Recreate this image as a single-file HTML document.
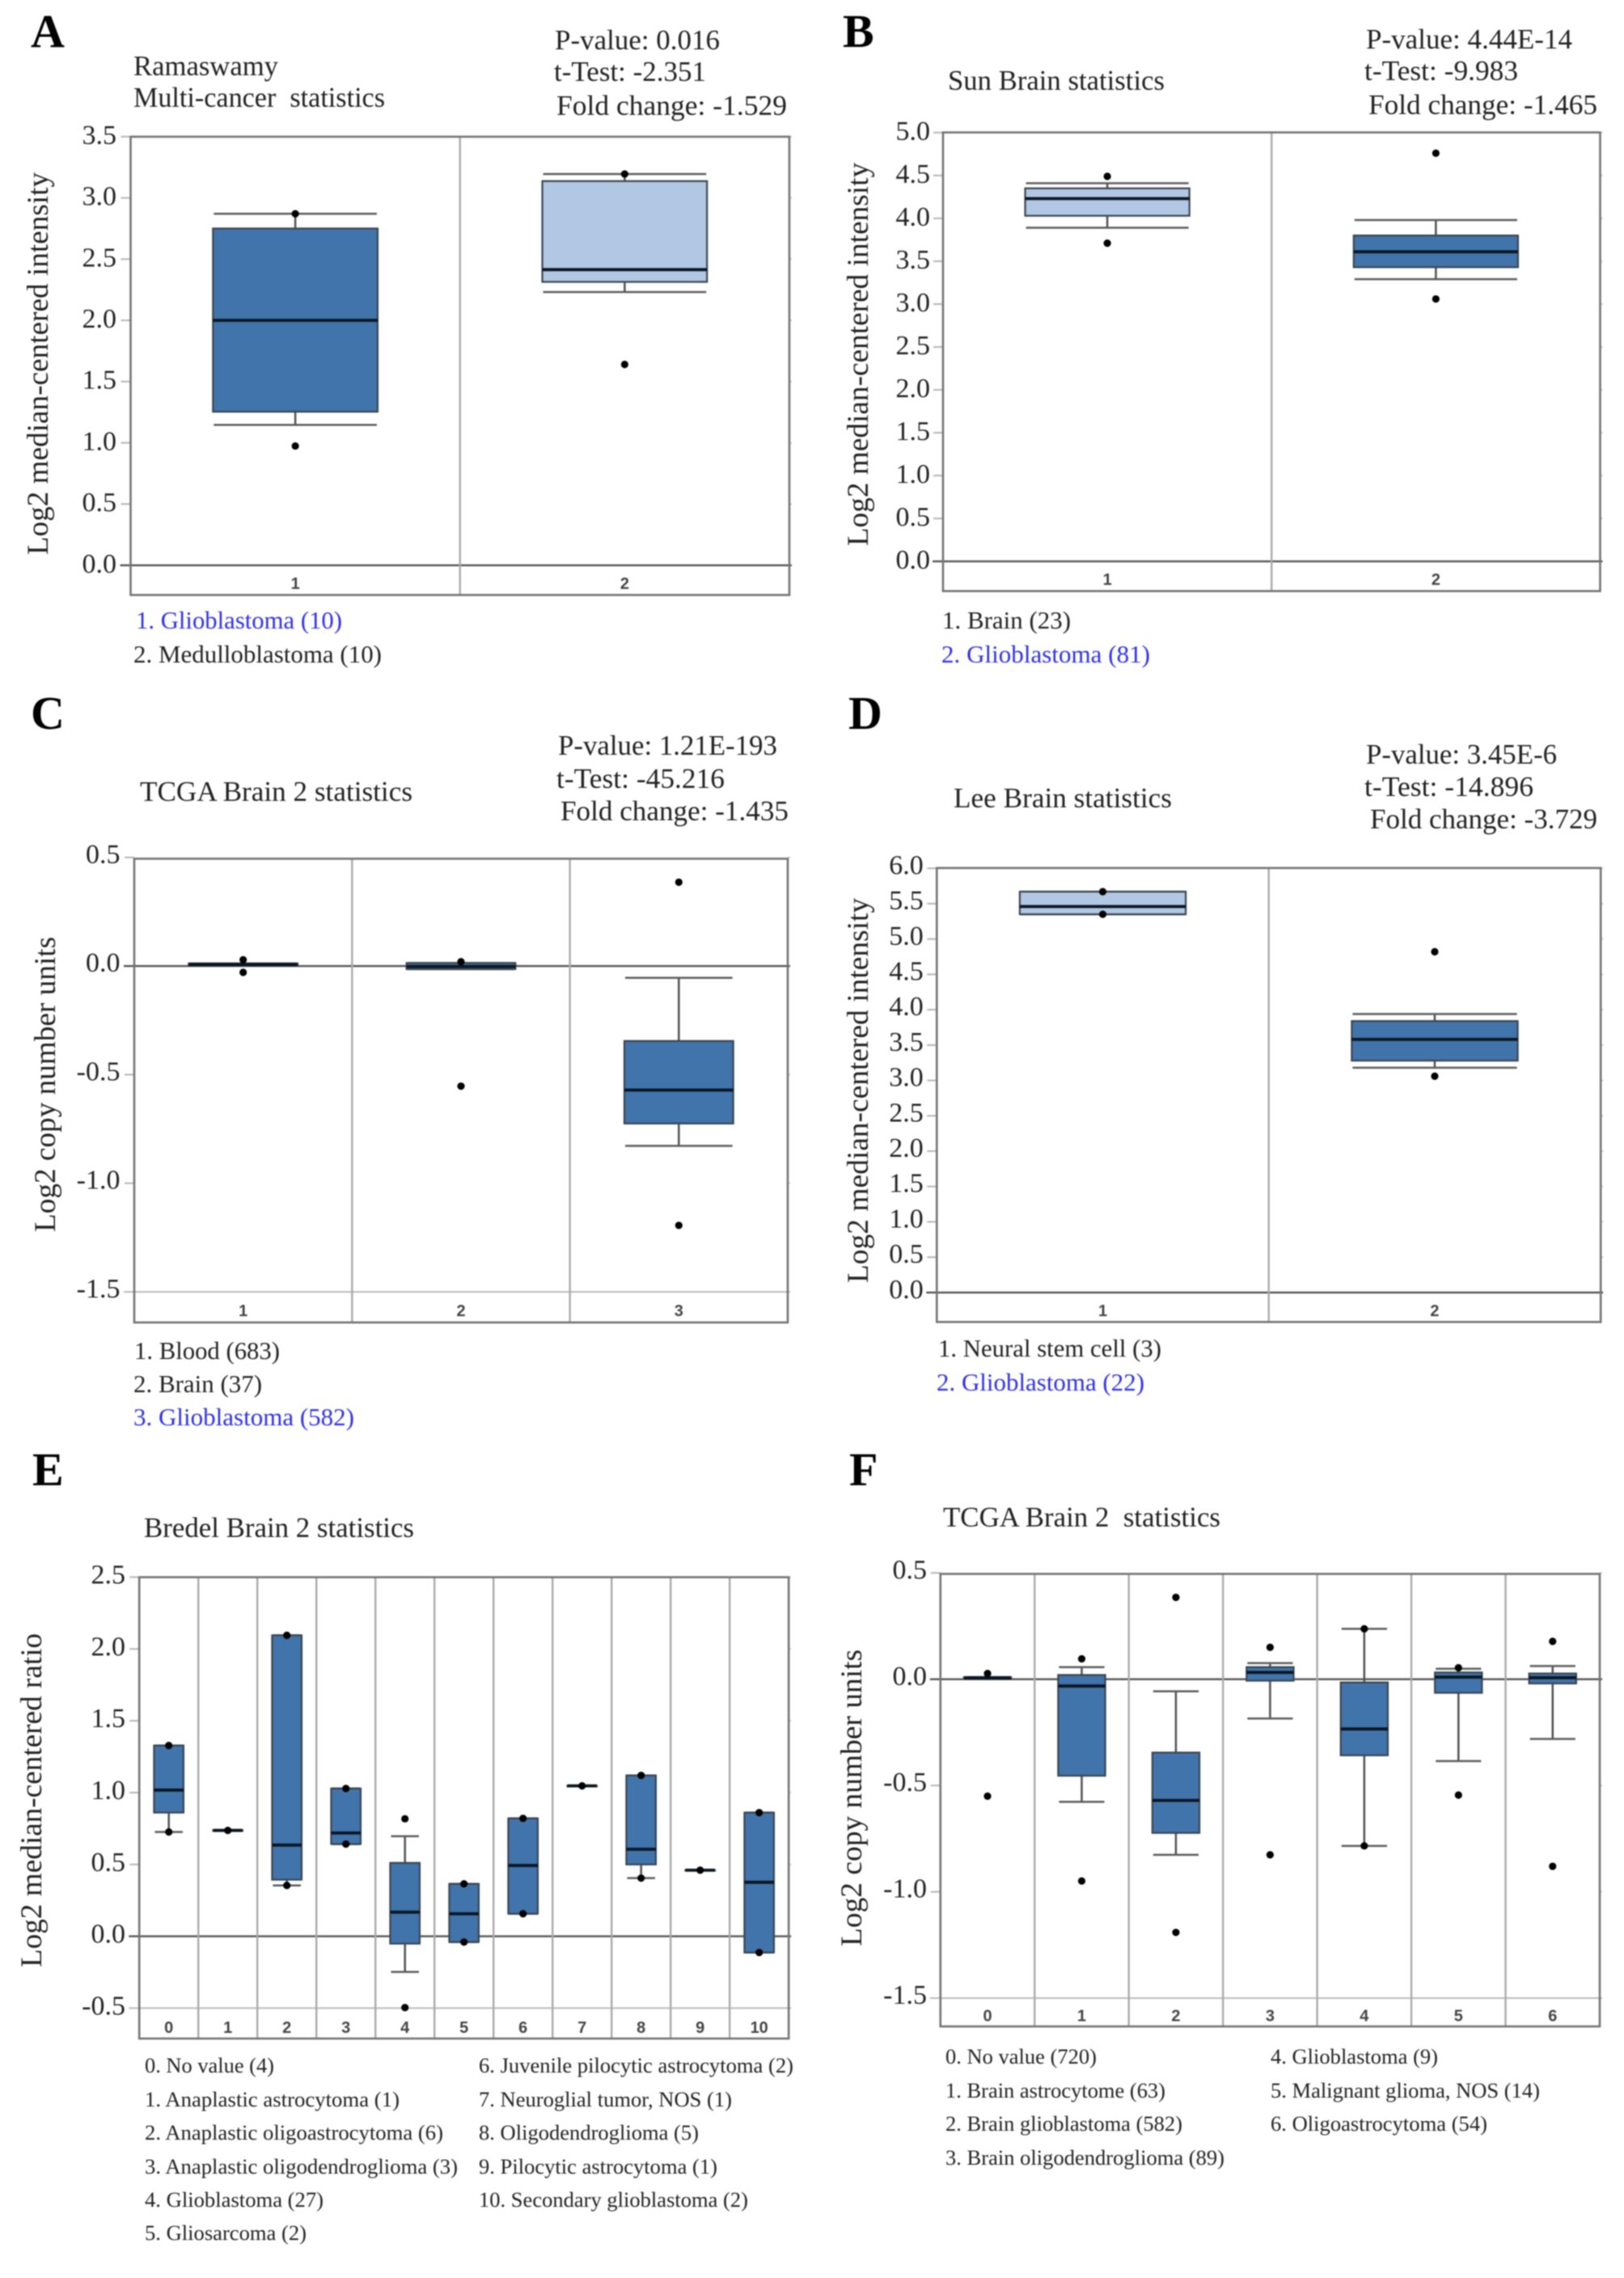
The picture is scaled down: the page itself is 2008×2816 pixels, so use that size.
<!DOCTYPE html>
<html lang="en">
<head>
<meta charset="utf-8">
<title>Oncomine box plots</title>
<style>
html,body{margin:0;padding:0;background:#fff;width:2008px;height:2816px;overflow:hidden}
svg{display:block;filter:blur(0.9px)}
text{font-family:"Liberation Serif",serif;fill:#222;white-space:pre}
.letter{font-size:58px;font-weight:bold;fill:#000}
.stat,.title{font-size:35px}
.ytitle{font-size:37px}
.leg{font-size:30.5px}
.legs{font-size:26.5px}
.blue{fill:#2f2fe8}
</style>
</head>
<body>
<svg id="figure" xmlns="http://www.w3.org/2000/svg" width="2008" height="2816" viewBox="0 0 2008 2816">
<rect x="0" y="0" width="2008" height="2816" fill="#fff"/>

<!-- Panel A -->
<g>
<text class="letter" x="38" y="58">A</text>
<text class="title" x="165" y="93" textLength="179" lengthAdjust="spacingAndGlyphs">Ramaswamy</text>
<text class="title" x="165" y="132" textLength="311" lengthAdjust="spacingAndGlyphs">Multi-cancer  statistics</text>
<text class="stat" x="686" y="61" textLength="204" lengthAdjust="spacingAndGlyphs">P-value: 0.016</text>
<text class="stat" x="685" y="100" textLength="188" lengthAdjust="spacingAndGlyphs">t-Test: -2.351</text>
<text class="stat" x="688" y="142" textLength="285" lengthAdjust="spacingAndGlyphs">Fold change: -1.529</text>
<text class="ytitle" transform="translate(59,686) rotate(-90)" textLength="473" lengthAdjust="spacingAndGlyphs">Log2 median-centered intensity</text>
<g id="plot-a"></g>
<text class="leg blue" x="168" y="777" textLength="255" lengthAdjust="spacingAndGlyphs">1. Glioblastoma (10)</text>
<text class="leg" x="165" y="819" textLength="307" lengthAdjust="spacingAndGlyphs">2. Medulloblastoma (10)</text>
</g>

<!-- Panel B -->
<g>
<text class="letter" x="1042" y="58">B</text>
<text class="title" x="1172" y="111" textLength="268" lengthAdjust="spacingAndGlyphs">Sun Brain statistics</text>
<text class="stat" x="1689" y="60" textLength="255" lengthAdjust="spacingAndGlyphs">P-value: 4.44E-14</text>
<text class="stat" x="1687" y="99" textLength="190" lengthAdjust="spacingAndGlyphs">t-Test: -9.983</text>
<text class="stat" x="1692" y="141" textLength="283" lengthAdjust="spacingAndGlyphs">Fold change: -1.465</text>
<text class="ytitle" transform="translate(1073,675) rotate(-90)" textLength="474" lengthAdjust="spacingAndGlyphs">Log2 median-centered intensity</text>
<g id="plot-b"></g>
<text class="leg" x="1165" y="777" textLength="159" lengthAdjust="spacingAndGlyphs">1. Brain (23)</text>
<text class="leg blue" x="1164" y="819" textLength="258" lengthAdjust="spacingAndGlyphs">2. Glioblastoma (81)</text>
</g>

<!-- Panel C -->
<g>
<text class="letter" x="38" y="901">C</text>
<text class="title" x="173" y="990" textLength="337" lengthAdjust="spacingAndGlyphs">TCGA Brain 2 statistics</text>
<text class="stat" x="690" y="933" textLength="271" lengthAdjust="spacingAndGlyphs">P-value: 1.21E-193</text>
<text class="stat" x="688" y="974" textLength="208" lengthAdjust="spacingAndGlyphs">t-Test: -45.216</text>
<text class="stat" x="693" y="1014" textLength="282" lengthAdjust="spacingAndGlyphs">Fold change: -1.435</text>
<text class="ytitle" transform="translate(68,1523) rotate(-90)" textLength="365" lengthAdjust="spacingAndGlyphs">Log2 copy number units</text>
<g id="plot-c"></g>
<text class="leg" x="166" y="1680" textLength="180" lengthAdjust="spacingAndGlyphs">1. Blood (683)</text>
<text class="leg" x="165" y="1721" textLength="159" lengthAdjust="spacingAndGlyphs">2. Brain (37)</text>
<text class="leg blue" x="165" y="1762" textLength="273" lengthAdjust="spacingAndGlyphs">3. Glioblastoma (582)</text>
</g>

<!-- Panel D -->
<g>
<text class="letter" x="1049" y="901">D</text>
<text class="title" x="1179" y="998" textLength="270" lengthAdjust="spacingAndGlyphs">Lee Brain statistics</text>
<text class="stat" x="1689" y="944" textLength="236" lengthAdjust="spacingAndGlyphs">P-value: 3.45E-6</text>
<text class="stat" x="1687" y="984" textLength="209" lengthAdjust="spacingAndGlyphs">t-Test: -14.896</text>
<text class="stat" x="1694" y="1024" textLength="281" lengthAdjust="spacingAndGlyphs">Fold change: -3.729</text>
<text class="ytitle" transform="translate(1073,1586) rotate(-90)" textLength="476" lengthAdjust="spacingAndGlyphs">Log2 median-centered intensity</text>
<g id="plot-d"></g>
<text class="leg" x="1160" y="1677" textLength="276" lengthAdjust="spacingAndGlyphs">1. Neural stem cell (3)</text>
<text class="leg blue" x="1158" y="1719" textLength="257" lengthAdjust="spacingAndGlyphs">2. Glioblastoma (22)</text>
</g>

<!-- Panel E -->
<g>
<text class="letter" x="40" y="1836">E</text>
<text class="title" x="178" y="1900" textLength="334" lengthAdjust="spacingAndGlyphs">Bredel Brain 2 statistics</text>
<text class="ytitle" transform="translate(51,2432) rotate(-90)" textLength="413" lengthAdjust="spacingAndGlyphs">Log2 median-centered ratio</text>
<g id="plot-e"></g>
<text class="legs" x="179" y="2562" textLength="160" lengthAdjust="spacingAndGlyphs">0. No value (4)</text>
<text class="legs" x="179" y="2604" textLength="315" lengthAdjust="spacingAndGlyphs">1. Anaplastic astrocytoma (1)</text>
<text class="legs" x="179" y="2645" textLength="369" lengthAdjust="spacingAndGlyphs">2. Anaplastic oligoastrocytoma (6)</text>
<text class="legs" x="179" y="2687" textLength="387" lengthAdjust="spacingAndGlyphs">3. Anaplastic oligodendroglioma (3)</text>
<text class="legs" x="179" y="2728" textLength="221" lengthAdjust="spacingAndGlyphs">4. Glioblastoma (27)</text>
<text class="legs" x="179" y="2769" textLength="200" lengthAdjust="spacingAndGlyphs">5. Gliosarcoma (2)</text>
<text class="legs" x="592" y="2562" textLength="389" lengthAdjust="spacingAndGlyphs">6. Juvenile pilocytic astrocytoma (2)</text>
<text class="legs" x="592" y="2604" textLength="313" lengthAdjust="spacingAndGlyphs">7. Neuroglial tumor, NOS (1)</text>
<text class="legs" x="592" y="2645" textLength="272" lengthAdjust="spacingAndGlyphs">8. Oligodendroglioma (5)</text>
<text class="legs" x="592" y="2687" textLength="295" lengthAdjust="spacingAndGlyphs">9. Pilocytic astrocytoma (1)</text>
<text class="legs" x="592" y="2728" textLength="333" lengthAdjust="spacingAndGlyphs">10. Secondary glioblastoma (2)</text>
</g>

<!-- Panel F -->
<g>
<text class="letter" x="1050" y="1836">F</text>
<text class="title" x="1166" y="1887" textLength="343" lengthAdjust="spacingAndGlyphs">TCGA Brain 2  statistics</text>
<text class="ytitle" transform="translate(1065,2406) rotate(-90)" textLength="367" lengthAdjust="spacingAndGlyphs">Log2 copy number units</text>
<g id="plot-f"></g>
<text class="legs" x="1169" y="2551" textLength="187" lengthAdjust="spacingAndGlyphs">0. No value (720)</text>
<text class="legs" x="1169" y="2593" textLength="272" lengthAdjust="spacingAndGlyphs">1. Brain astrocytome (63)</text>
<text class="legs" x="1169" y="2634" textLength="293" lengthAdjust="spacingAndGlyphs">2. Brain glioblastoma (582)</text>
<text class="legs" x="1169" y="2676" textLength="345" lengthAdjust="spacingAndGlyphs">3. Brain oligodendroglioma (89)</text>
<text class="legs" x="1571" y="2551" textLength="207" lengthAdjust="spacingAndGlyphs">4. Glioblastoma (9)</text>
<text class="legs" x="1571" y="2593" textLength="333" lengthAdjust="spacingAndGlyphs">5. Malignant glioma, NOS (14)</text>
<text class="legs" x="1571" y="2634" textLength="268" lengthAdjust="spacingAndGlyphs">6. Oligoastrocytoma (54)</text>
</g>
</svg>

<script>
// Panel A data
const aCategories = ["1", "2"];
const aTicks = ["0.0", "0.5", "1.0", "1.5", "2.0", "2.5", "3.0", "3.5"];
const aLow = [1.146, 2.231];
const aQ1 = [1.254, 2.314];
const aMedian = [2.0, 2.414];
const aQ3 = [2.75, 3.137];
const aHigh = [2.87, 3.195];
const aOutliers = [[2.87, 0.974], [3.195, 1.64]];

// Panel B data
const bCategories = ["1", "2"];
const bTicks = ["0.0", "0.5", "1.0", "1.5", "2.0", "2.5", "3.0", "3.5", "4.0", "4.5", "5.0"];
const bLow = [3.89, 3.29];
const bQ1 = [4.03, 3.43];
const bMedian = [4.23, 3.61];
const bQ3 = [4.35, 3.80];
const bHigh = [4.41, 3.98];
const bOutliers = [[4.49, 3.71], [4.76, 3.06]];

// Panel C data
const cCategories = ["1", "2", "3"];
const cTicks = ["-1.5", "-1.0", "-0.5", "0.0", "0.5"];
const cLow = [0.002, -0.014, -0.828];
const cQ1 = [0.002, -0.014, -0.725];
const cMedian = [0.007, -0.002, -0.571];
const cQ3 = [0.012, 0.014, -0.345];
const cHigh = [0.012, 0.014, -0.054];
const cOutliers = [[0.029, -0.029], [0.02, -0.553], [0.386, -1.194]];

// Panel D data
const dCategories = ["1", "2"];
const dTicks = ["0.0", "0.5", "1.0", "1.5", "2.0", "2.5", "3.0", "3.5", "4.0", "4.5", "5.0", "5.5", "6.0"];
const dLow = [5.35, 3.18];
const dQ1 = [5.35, 3.28];
const dMedian = [5.46, 3.58];
const dQ3 = [5.67, 3.84];
const dHigh = [5.67, 3.94];
const dOutliers = [[5.67, 5.35], [4.82, 3.06]];

// Panel E data
const eCategories = ["0", "1", "2", "3", "4", "5", "6", "7", "8", "9", "10"];
const eTicks = ["-0.5", "0.0", "0.5", "1.0", "1.5", "2.0", "2.5"];
const eLow = [0.726, 0.737, 0.354, 0.642, -0.248, -0.04, 0.157, 1.047, 0.405, 0.46, -0.113];
const eQ1 = [0.861, 0.737, 0.394, 0.642, -0.051, -0.04, 0.157, 1.047, 0.5, 0.46, -0.113];
const eMedian = [1.018, 0.737, 0.635, 0.719, 0.168, 0.157, 0.493, 1.047, 0.606, 0.46, 0.376];
const eQ3 = [1.328, 0.737, 2.095, 1.029, 0.511, 0.365, 0.821, 1.047, 1.12, 0.46, 0.861];
const eHigh = [1.328, 0.737, 2.095, 1.029, 0.697, 0.365, 0.821, 1.047, 1.12, 0.46, 0.861];
const eOutliers = [[1.328, 0.726], [0.737], [2.095, 0.354], [1.029, 0.642], [0.818, -0.496], [0.365, -0.04], [0.821, 0.157], [1.047], [1.12, 0.405], [0.46], [0.861, -0.113]];

// Panel F data
const fCategories = ["0", "1", "2", "3", "4", "5", "6"];
const fTicks = ["-1.5", "-1.0", "-0.5", "0.0", "0.5"];
const fLow = [0.002, -0.577, -0.826, -0.185, -0.784, -0.385, -0.281];
const fQ1 = [0.002, -0.454, -0.723, -0.007, -0.358, -0.064, -0.02];
const fMedian = [0.006, -0.032, -0.57, 0.032, -0.234, 0.01, 0.007];
const fQ3 = [0.01, 0.02, -0.345, 0.057, -0.015, 0.032, 0.027];
const fHigh = [0.01, 0.057, -0.057, 0.076, 0.237, 0.049, 0.062];
const fOutliers = [[0.027, -0.55], [0.096, -0.949], [0.385, -1.191], [0.15, -0.826], [0.237, -0.784], [0.054, -0.545], [0.178, -0.88]];

const SVGNS = 'http://www.w3.org/2000/svg';

function mk(parent, tag, attrs) {
  const el = document.createElementNS(SVGNS, tag);
  for (const k in attrs) el.setAttribute(k, attrs[k]);
  parent.appendChild(el);
  return el;
}

function drawPlot(id, layout, categories, ticks, low, q1, median, q3, high, outliers) {
  const root = document.getElementById(id);
  const left = layout.left, right = layout.right, top = layout.top, bottom = layout.bottom;
  const yOf = function (v) { return layout.y0 - v * layout.unit; };
  const colW = (right - left) / categories.length;
  const xOf = function (i) { return left + colW * (i + 0.5); };

  // y ticks and reference lines
  ticks.forEach(function (label) {
    const v = parseFloat(label);
    const y = yOf(v);
    const isZero = v === 0;
    const isFloor = v === Math.min.apply(null, ticks.map(Number)) && v < 0;
    const mark = mk(root, 'line', { x1: left - 13, x2: right + 3, y1: y, y2: y, stroke: isZero ? '#555' : (isFloor ? '#bbb' : 'none'), 'stroke-width': isZero ? 2.4 : 2 });
    
    
    if (!isZero && !isFloor) {
      const tl = mk(root, 'line', { x1: left - 12, x2: left, y1: y, y2: y, stroke: '#b5b5b5', 'stroke-width': 2 });
      
      
      const tr = mk(root, 'line', { x1: right, x2: right + 3, y1: y, y2: y, stroke: '#ccc', 'stroke-width': 2 });
      
      
    }
    const t = mk(root, 'text', { x: layout.tickX, y: y + layout.tickDy, 'text-anchor': 'end', 'font-size': 34 });
    t.textContent = label;
    
    
  });

  // column dividers
  for (let i = 1; i < categories.length; i++) {
    const d = mk(root, 'line', { x1: left + colW * i, x2: left + colW * i, y1: top, y2: bottom, stroke: '#aaa', 'stroke-width': 2.4 });
    
    
  }

  // frame
  const frame = mk(root, 'rect', { x: left, y: top, width: right - left, height: bottom - top, fill: 'none', stroke: '#747474', 'stroke-width': 2.6 });
  
  

  // boxes
  categories.forEach(function (cat, i) {
    const cx = xOf(i);
    const hw = colW / 4;
    const capW = hw - 1;
    const whisker = mk(root, 'line', { x1: cx, x2: cx, y1: yOf(high[i]), y2: yOf(low[i]), stroke: '#505050', 'stroke-width': 2.5 });
    
    
    const capHi = mk(root, 'line', { x1: cx - capW, x2: cx + capW, y1: yOf(high[i]), y2: yOf(high[i]), stroke: '#5c5c5c', 'stroke-width': 2.5 });
    
    
    const capLo = mk(root, 'line', { x1: cx - capW, x2: cx + capW, y1: yOf(low[i]), y2: yOf(low[i]), stroke: '#5c5c5c', 'stroke-width': 2.5 });
    
    
    const box = mk(root, 'rect', { x: cx - hw, y: yOf(q3[i]), width: hw * 2, height: Math.max(0.5, yOf(q1[i]) - yOf(q3[i])), fill: i === layout.lightIndex ? '#b2c7e3' : '#4074ab', stroke: '#3a4550', 'stroke-width': 2.2 });
    
    
    const med = mk(root, 'line', { x1: cx - hw, x2: cx + hw, y1: yOf(median[i]), y2: yOf(median[i]), stroke: '#0b1622', 'stroke-width': 3.8 });
    
    
    outliers[i].forEach(function (v, j) {
      const dot = mk(root, 'circle', { cx: cx, cy: yOf(v), r: 4.6, fill: '#000' });
      
      
    });
    const lab = mk(root, 'text', { x: cx, y: layout.labelY, 'text-anchor': 'middle', 'font-size': 20, 'font-weight': 'bold' });
    lab.style.fontFamily = '"Liberation Sans", sans-serif';
    lab.style.fill = '#444';
    lab.textContent = cat;
    
    
  });
}

drawPlot('plot-a', { left: 161.5, right: 976, top: 169, bottom: 735.5, y0: 698.8, unit: 151.4, tickX: 144, tickDy: 9, labelY: 728, lightIndex: 1 }, aCategories, aTicks, aLow, aQ1, aMedian, aQ3, aHigh, aOutliers);
drawPlot('plot-b', { left: 1166, right: 1978.5, top: 163.7, bottom: 730.7, y0: 693.9, unit: 106.0, tickX: 1150, tickDy: 9, labelY: 723, lightIndex: 0 }, bCategories, bTicks, bLow, bQ1, bMedian, bQ3, bHigh, bOutliers);
drawPlot('plot-c', { left: 166, right: 974, top: 1061.5, bottom: 1634.8, y0: 1194.2, unit: 268.5, tickX: 148.5, tickDy: 7, labelY: 1627, lightIndex: -1 }, cCategories, cTicks, cLow, cQ1, cMedian, cQ3, cHigh, cOutliers);
drawPlot('plot-d', { left: 1158.3, right: 1979.2, top: 1073, bottom: 1634.2, y0: 1597.8, unit: 87.4, tickX: 1141.7, tickDy: 7, labelY: 1627, lightIndex: 0 }, dCategories, dTicks, dLow, dQ1, dMedian, dQ3, dHigh, dOutliers);
drawPlot('plot-e', { left: 172.2, right: 975.2, top: 1949.7, bottom: 2520, y0: 2393.6, unit: 177.6, tickX: 155, tickDy: 8, labelY: 2513, lightIndex: -1 }, eCategories, eTicks, eLow, eQ1, eMedian, eQ3, eHigh, eOutliers);
drawPlot('plot-f', { left: 1162.8, right: 1978, top: 1945.6, bottom: 2505, y0: 2075.8, unit: 262.8, tickX: 1146, tickDy: 7, labelY: 2498.5, lightIndex: -1 }, fCategories, fTicks, fLow, fQ1, fMedian, fQ3, fHigh, fOutliers);
</script>
</body>
</html>
